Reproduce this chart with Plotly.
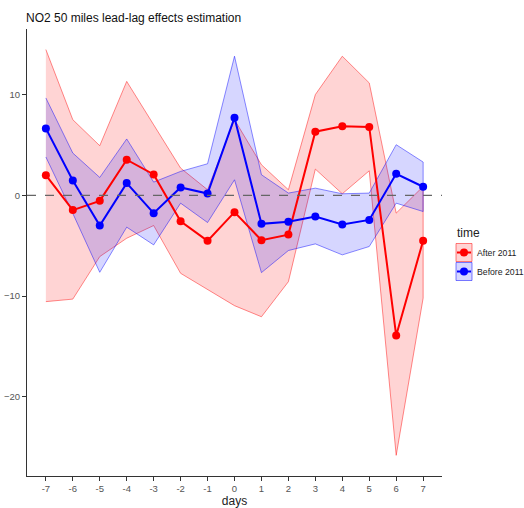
import plotly.graph_objects as go

# Lead-lag estimates of NO2 effect (50 miles), by day relative to event
days = [-7, -6, -5, -4, -3, -2, -1, 0, 1, 2, 3, 4, 5, 6, 7]

after_est = [2.0, -1.47, -0.55, 3.53, 2.07, -2.57, -4.52, -1.67, -4.46, -3.9, 6.31, 6.84, 6.78, -13.9, -4.5]
after_low = [-10.55, -10.3, -6.08, -4.26, -3.0, -7.74, -9.33, -10.95, -12.05, -8.57, 2.6, 0.15, 2.43, -25.8, -10.2]
after_high = [14.46, 7.5, 4.92, 11.3, 7.0, 2.7, 0.55, 7.5, 3.03, 0.55, 9.99, 13.8, 11.15, -1.77, 0.88]

before_est = [6.64, 1.47, -3.0, 1.21, -1.77, 0.78, 0.18, 7.7, -2.83, -2.63, -2.1, -2.9, -2.44, 2.14, 0.85]
before_low = [3.8, -1.8, -7.64, -3.16, -4.92, -0.78, -2.7, 1.54, -7.67, -5.48, -4.82, -5.91, -5.08, -0.78, -1.61]
before_high = [9.66, 4.19, 1.77, 5.59, 1.31, 2.37, 3.13, 13.8, 2.04, 0.22, 0.71, 0.15, 0.22, 5.02, 3.3]

groups = [
    ("After 2011", after_est, after_low, after_high, "#FF0000", "rgba(255,0,0,0.17)", "rgba(255,0,0,0.5)"),
    ("Before 2011", before_est, before_low, before_high, "#0000FF", "rgba(0,0,255,0.16)", "rgba(0,0,255,0.5)"),
]

FONT = "Liberation Sans, Arial, sans-serif"

# page geometry (pixels)
W, H = 524, 508
L, T, B = 27, 29, 32
PANEL_RIGHT = 442          # right edge of the plotting panel
KEY_LEFT = 450             # left edge of the legend area
paper_w = W - L

fig = go.Figure()

# confidence ribbons
for name, est, lo, hi, col, fill, edge in groups:
    fig.add_trace(go.Scatter(
        x=days + days[::-1], y=hi + lo[::-1],
        fill="toself", fillcolor=fill, mode="lines",
        line=dict(color=edge, width=0.9),
        hoverinfo="skip", showlegend=False,
    ))

# point estimates
for name, est, lo, hi, col, fill, edge in groups:
    fig.add_trace(go.Scatter(
        x=days, y=est, mode="lines+markers", name=name,
        line=dict(color=col, width=2),
        marker=dict(color=col, size=8),
        showlegend=False,
    ))

# legend, drawn on a hidden overlay axis measured in page pixels
annotations = [dict(text="time", x=455, y=232.5, xref="x2", yref="y2",
                    showarrow=False, xanchor="left", yanchor="middle",
                    font=dict(family=FONT, size=12, color="#222222"))]
for i, (name, est, lo, hi, col, fill, edge) in enumerate(groups):
    top = 243.5 + i * 19
    bot = top + 18
    yc = (top + bot) / 2
    fig.add_trace(go.Scatter(
        x=[456, 472, 472, 456, 456], y=[top, top, bot, bot, top],
        xaxis="x2", yaxis="y2", mode="lines", fill="toself",
        fillcolor=fill, line=dict(color=edge, width=1),
        hoverinfo="skip", showlegend=False,
    ))
    fig.add_trace(go.Scatter(
        x=[457, 471], y=[yc, yc], xaxis="x2", yaxis="y2",
        mode="lines", line=dict(color=col, width=2),
        hoverinfo="skip", showlegend=False,
    ))
    fig.add_trace(go.Scatter(
        x=[464], y=[yc], xaxis="x2", yaxis="y2",
        mode="markers", marker=dict(color=col, size=8),
        hoverinfo="skip", showlegend=False,
    ))
    annotations.append(dict(text=name, x=474.5, y=yc, xref="x2", yref="y2",
                            showarrow=False, xanchor="left", yanchor="middle",
                            font=dict(family=FONT, size=8.7, color="#222222")))

fig.update_layout(
    width=W, height=H,
    margin=dict(l=L, r=0, t=T, b=B, pad=0, autoexpand=False),
    paper_bgcolor="white", plot_bgcolor="white",
    font=dict(family=FONT),
    title=dict(text="NO2 50 miles lead-lag effects estimation",
               x=26 / W, xanchor="left", y=1 - 18 / H, yanchor="middle",
               xref="container", yref="container", automargin=False,
               font=dict(family=FONT, size=12, color="#111111")),
    showlegend=False,
    annotations=annotations,
    shapes=[dict(type="line", xref="x domain", yref="y", x0=0, x1=1, y0=0, y1=0,
                 line=dict(color="#666666", width=1.2, dash="dash"))],
    xaxis=dict(
        domain=[0, (PANEL_RIGHT - L) / paper_w],
        range=[-7.7, 7.7], tickvals=days, ticktext=[str(d) for d in days],
        showgrid=False, zeroline=False, showline=True, linecolor="#333333", linewidth=1,
        ticks="outside", ticklen=4, tickcolor="#333333", tickwidth=1,
        tickfont=dict(family=FONT, size=9.5, color="#555555"),
        title=dict(text="days", font=dict(family=FONT, size=12, color="#222222"), standoff=4),
        automargin=False,
    ),
    yaxis=dict(
        range=[-27.85, 16.5], tickvals=[-20, -10, 0, 10],
        showgrid=False, zeroline=False, showline=True, linecolor="#333333", linewidth=1,
        ticks="outside", ticklen=4, tickcolor="#333333", tickwidth=1,
        tickfont=dict(family=FONT, size=9.5, color="#555555"),
        automargin=False,
    ),
    xaxis2=dict(domain=[(KEY_LEFT - L) / paper_w, 1], range=[KEY_LEFT, W],
                anchor="y2", visible=False, fixedrange=True),
    yaxis2=dict(domain=[0, 1], range=[H - B, T], anchor="x2",
                visible=False, fixedrange=True),
)

fig.write_html("out.html")
